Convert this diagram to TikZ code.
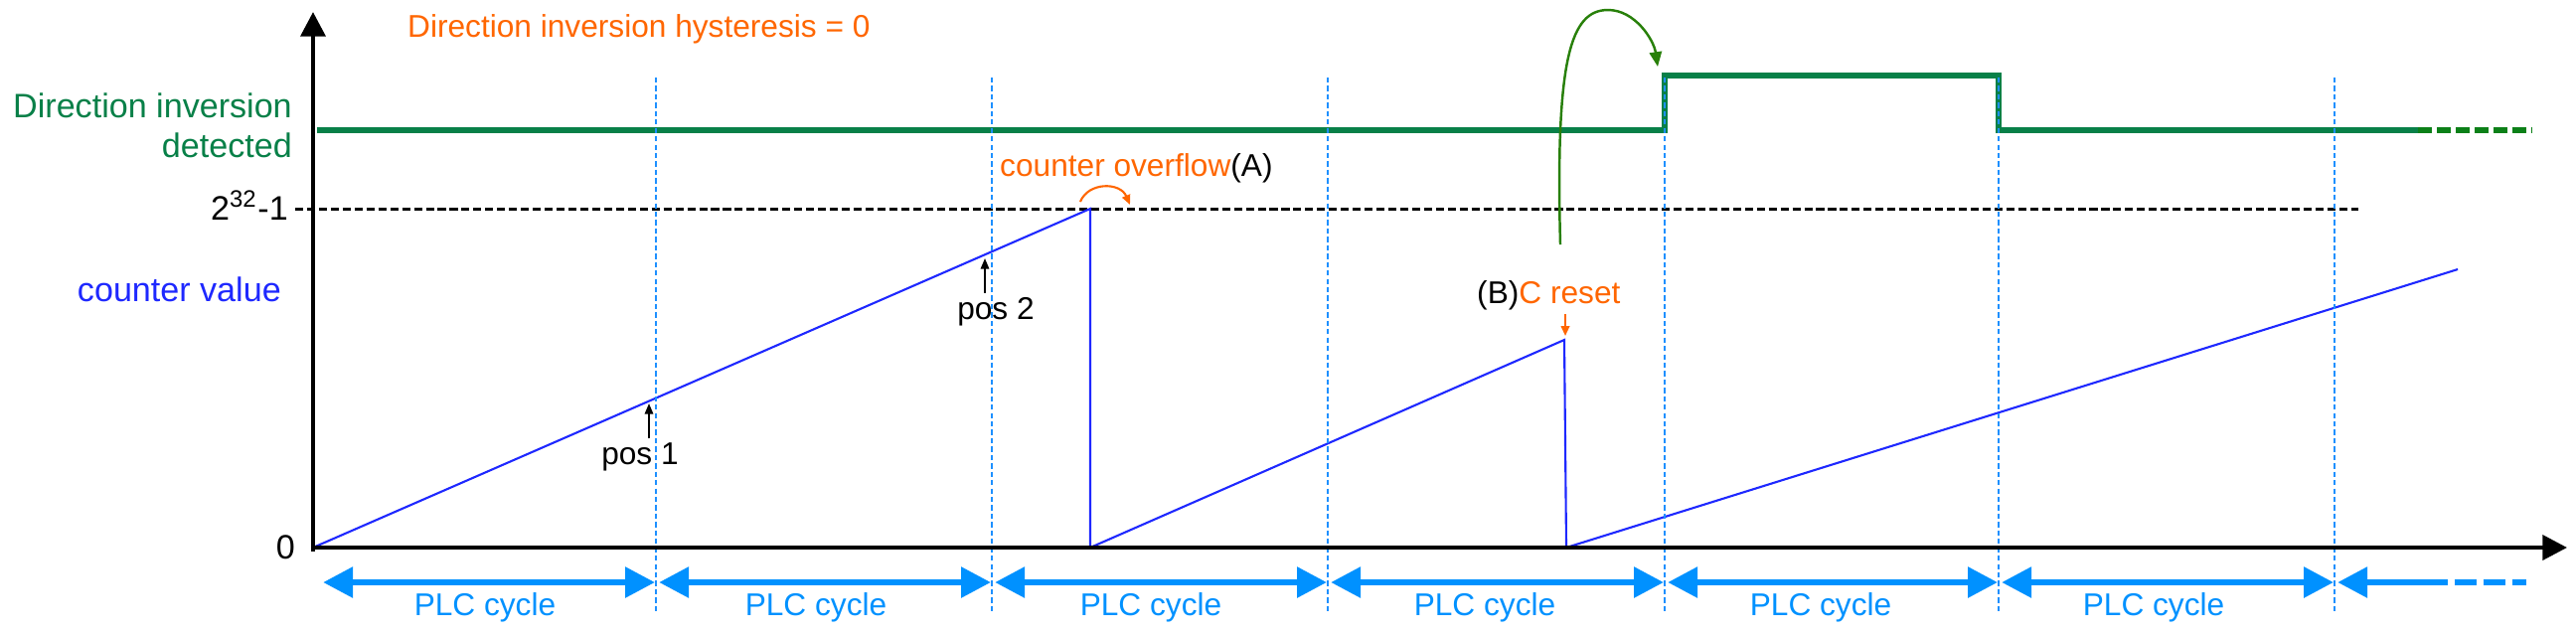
\documentclass[tikz,border=0pt]{standalone}
\usepackage{fontspec}
\setmainfont{Liberation Sans}
\usepackage{xcolor}
\usepackage{tikz}
\usetikzlibrary{arrows.meta}
\definecolor{csig}{RGB}{8,128,72}
\definecolor{csigd}{RGB}{12,128,24}
\definecolor{cjump}{RGB}{40,128,10}
\definecolor{ccnt}{RGB}{30,40,255}
\definecolor{cgrid}{RGB}{30,144,255}
\definecolor{cplc}{RGB}{0,145,255}
\definecolor{cnote}{RGB}{255,102,0}
\tikzset{
  ax/.style={draw=black, line width=1.3pt, -{Triangle[length=7pt,width=7pt]}},
  sig/.style={draw=csig, line width=1.45pt},
  sigd/.style={draw=csigd, line width=1.45pt, dash pattern=on 4pt off 1.4pt},
  lvl/.style={draw=black, line width=0.85pt, dash pattern=on 2.3pt off 1.1pt},
  cyc/.style={draw=cgrid, line width=0.7pt, dash pattern=on 1.5pt off 0.9pt},
  cnt/.style={draw=ccnt, line width=0.6pt},
  cycarr/.style={draw=cplc, line width=1.7pt, {Triangle[length=8.5pt,width=8.5pt]}-{Triangle[length=8.5pt,width=8.5pt]}},
  cyctail/.style={draw=cplc, line width=1.7pt, {Triangle[length=8.5pt,width=8.5pt]}-},
  cycdash/.style={draw=cplc, line width=1.7pt, dash pattern=on 6.2pt off 2pt},
  ptr/.style={draw=black, line width=0.45pt, -{Triangle[length=3pt,width=2.4pt]}},
  noteptr/.style={draw=cnote, line width=0.6pt, -{Triangle[length=2.8pt,width=2.4pt]}},
  jump/.style={draw=cjump, line width=0.7pt, -{Triangle[length=4.2pt,width=3.5pt]}},
  lab/.style={text=black, font=\fontsize{9pt}{11pt}\selectfont, inner sep=1pt},
  biglab/.style={text=black, font=\fontsize{9.7pt}{11.4pt}\selectfont, inner sep=1pt},
  plclab/.style={text=cplc, font=\fontsize{9pt}{11pt}\selectfont, inner sep=1pt},
}
\begin{document}
\begin{tikzpicture}[x=0.01cm, y=-0.01cm]
  \useasboundingbox (0,0) rectangle (2592,638);
  \coordinate (O) at (315,551);
  \coordinate (A) at (1097,210);
  \coordinate (A0) at (1097,551);
  \coordinate (B) at (1574,342);
  \coordinate (B0) at (1576,551);
  \coordinate (E) at (2473,271);

  % direction inversion signal and max counter level
  \draw[sig] (319,131) -- (1675,131) -- (1675,76) -- (2011,76) -- (2011,131) -- (2433,131);
  \draw[sigd] (2433,131) -- (2548,131);
  \draw[lvl] (297,210) -- (2373,210);

  % counter value
  \draw[cnt] (O) -- (A) -- (A0) -- (B) -- (B0) -- (E);

  % PLC cycle boundaries
  \foreach \x in {660,998,1336,1675,2011,2349}
    \draw[cyc] (\x,78) -- (\x,615);

  \draw[ax] ([yshift=-1pt]O) -- (315,12);
  \draw[ax] ([xshift=-0.6pt]O) -- (2583,551);

  % labels left of the axis
  \node[biglab, text=csig, align=right, anchor=east] (dir) at (298,126) {Direction inversion\\detected};
  \node[biglab, anchor=base east] (max) at (294,221) {2\textsuperscript{32}-1};
  \node[biglab, text=ccnt, anchor=base east] (cval) at (287,303) {counter value};
  \node[biglab, anchor=base east] (zero) at (301,562) {0};
  \node[lab, text=cnote, anchor=base west] (hyst) at (406,37) {Direction inversion hysteresis = 0};

  % positions
  \coordinate (pos1) at (653,406);
  \coordinate (pos2) at (991,260);
  \node[lab, anchor=base] (p1) at (644,467) {pos 1};
  \node[lab, anchor=base] (p2) at (1002,321) {pos 2};
  \draw[ptr] (p1.north -| pos1) -- (pos1);
  \draw[ptr] (p2.north -| pos2) -- (pos2);

  % overflow (A)
  \node[lab, anchor=base west] (ovf) at (1002,177) {\textcolor{cnote}{counter overflow}(A)};
  \coordinate (ovA) at (1087,203);
  \coordinate (ovB) at (1137,206);
  \draw[noteptr] (ovA) .. controls (1095,183) and (1127,183) .. (ovB);

  % reset (B)
  \node[lab, anchor=base west] (rst) at (1482,305) {(B)\textcolor{cnote}{C reset}};
  \coordinate (rtip) at (1575,338);
  \draw[noteptr] (rst.south -| rtip) -- (rtip);

  % reset -> direction inversion
  \coordinate (jfrom) at (1570,246);
  \coordinate (jto) at (1668,67);
  \draw[jump] (jfrom) .. controls (1565,60) and (1580,10) .. (1618,10)
    .. controls (1645,10) and (1664,40) .. (jto);

  % PLC cycles
  \foreach \x [count=\i from 0] in {322,660,998,1336,1675,2011,2349}
    \coordinate (g\i) at (\x,586);
  \foreach \i [evaluate=\i as \j using int(\i+1)] in {0,...,5}
    \draw[cycarr] ([xshift=0.9pt]g\i) -- ([xshift=-0.3pt]g\j);
  \coordinate (gend) at (2441,586);
  \coordinate (gfade) at (2542,586);
  \draw[cyctail] ([xshift=0.9pt]g6) -- (gend);
  \draw[cycdash] (gend) -- (gfade);
  \foreach \x [count=\i] in {488,821,1158,1494,1832,2167}
    \node[plclab, anchor=base] (plc\i) at (\x,619) {PLC cycle};
\end{tikzpicture}
\end{document}
